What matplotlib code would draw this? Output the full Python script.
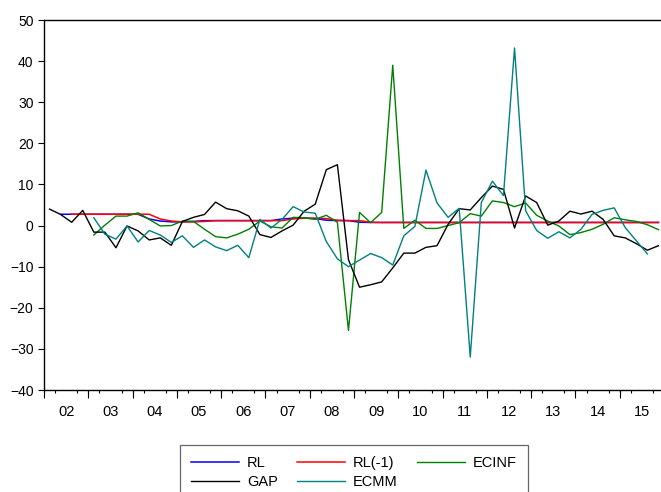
"""Quarterly series 2002-2015: RL, RL(-1), ECINF, GAP, ECMM (EViews-style line chart)."""
import numpy as np
import matplotlib
matplotlib.use("Agg")
import matplotlib.pyplot as plt

plt.rcParams["font.family"] = ["Liberation Sans", "DejaVu Sans"]

NA = np.nan

years = list(range(2002, 2016))
year_labels = [f"{y % 100:02d}" for y in years]

rl = [NA, 2.75, 2.75, 2.75, 2.75, 2.75, 2.75, 2.75, 2.75, 1.6,
      1.1, 0.9, 0.9, 1.0, 1.2, 1.2, 1.2, 1.2, 1.2, 1.2,
      1.2, 1.6, 1.8, 1.8, 1.7, 1.3, 1.2, 1.2, 0.8, 0.75,
      0.75, 0.75, 0.75, 0.75, 0.75, 0.75, 0.75, 0.75, 0.75, 0.75,
      0.75, 0.75, 0.75, 0.75, 0.75, 0.75, 0.75, 0.75, 0.75, 0.75,
      0.75, 0.75, 0.75, 0.75, 0.75, 0.75]

rl_lag = [NA, NA, 2.75, 2.75, 2.75, 2.75, 2.75, 2.75, 2.75, 2.75,
          1.6, 1.1, 0.9, 0.9, 1.0, 1.2, 1.2, 1.2, 1.2, 1.2,
          1.2, 1.2, 1.6, 1.8, 1.8, 1.7, 1.3, 1.2, 1.2, 0.8,
          0.75, 0.75, 0.75, 0.75, 0.75, 0.75, 0.75, 0.75, 0.75, 0.75,
          0.75, 0.75, 0.75, 0.75, 0.75, 0.75, 0.75, 0.75, 0.75, 0.75,
          0.75, 0.75, 0.75, 0.75, 0.75, 0.75]

ecinf = [NA, NA, NA, NA, -2.3, 0.1, 2.3, 2.3, 3.1, 1.5,
         -0.1, 0.0, 1.1, 1.0, -0.9, -2.7, -3.0, -2.1, -0.9, 1.1,
         -0.3, -0.6, 2.0, 1.9, 1.5, 2.5, 0.8, -25.5, 3.2, 0.7,
         3.2, 39.0, -0.7, 1.3, -0.7, -0.7, 0.0, 0.7, 2.9, 2.3,
         6.0, 5.6, 4.6, 5.5, 2.5, 1.1, -0.1, -2.2, -1.7, -0.9,
         0.3, 1.9, 1.4, 1.0, 0.2, -1.0]

gap = [4.0, 2.7, 0.8, 3.7, -1.6, -1.6, -5.4, -0.1, -1.3, -3.5,
       -3.0, -4.8, 1.0, 2.0, 2.7, 5.7, 4.1, 3.6, 2.3, -2.2,
       -2.9, -1.3, 0.1, 3.5, 5.2, 13.6, 14.8, -8.3, -15.0, -14.4,
       -13.7, -10.3, -6.7, -6.7, -5.3, -4.9, 0.3, 4.1, 3.8, 6.8,
       9.6, 8.8, -0.6, 7.2, 5.6, 0.1, 1.1, 3.5, 2.8, 3.5,
       1.5, -2.5, -3.0, -4.4, -6.0, -4.9]

ecmm = [NA, NA, NA, NA, 1.9, -2.1, -3.3, -0.1, -4.0, -1.2,
        -2.3, -4.1, -2.5, -5.3, -3.5, -5.2, -6.1, -4.8, -7.8, 1.5,
        -0.6, 1.5, 4.6, 3.3, 3.0, -3.9, -8.1, -10.0, -8.4, -6.8,
        -7.8, -9.6, -2.5, -0.2, 13.5, 5.5, 2.0, 4.2, -32.0, 5.6,
        10.8, 7.3, 43.2, 3.6, -1.2, -3.1, -1.5, -3.0, -0.9, 2.7,
        3.7, 4.3, -0.5, -3.7, -6.9, NA]

# quarter midpoints, in years
t = years[0] + (np.arange(len(gap)) + 0.5) / 4

fig = plt.figure(figsize=(6.61, 4.92), dpi=100)
ax = fig.add_axes([44 / 661, 1 - 390 / 492, 620 / 661, 370 / 492])

ax.plot(t, rl, color="#0000ff", lw=1.1, label="RL")
ax.plot(t, rl_lag, color="#ff0000", lw=1.1, label="RL(-1)")
ax.plot(t, ecinf, color="#008000", lw=1.0, label="ECINF")
ax.plot(t, gap, color="black", lw=1.0, label="GAP")
ax.plot(t, ecmm, color="#008080", lw=1.0, label="ECMM")

ax.set_xlim(years[0], years[-1] + 1)
ax.set_ylim(-40, 50)
ax.set_yticks(np.arange(-40, 51, 10))
ax.tick_params(axis="y", direction="out", length=4.5, width=0.8,
               labelsize=10, pad=3)

# year labels centred in each year, quarter ticks, longer year-boundary ticks
ax.set_xticks(np.array(years) + 0.5)
ax.set_xticklabels(year_labels)
ax.set_xticks(np.arange(years[0], years[-1] + 1.01, 0.25), minor=True)
ax.tick_params(axis="x", which="major", length=0, labelsize=10.5, pad=11)
ax.tick_params(axis="x", which="minor", direction="out", length=2.5, width=0.8)
sec = ax.secondary_xaxis("bottom")
sec.set_xticks(list(years) + [years[-1] + 1])
sec.set_xticklabels([])
sec.tick_params(direction="out", length=5.5, width=0.8)
sec.spines["bottom"].set_visible(False)

for s in ax.spines.values():
    s.set_linewidth(1.0)

h, l = ax.get_legend_handles_labels()
order = [0, 3, 1, 4, 2]  # fill rows: RL RL(-1) ECINF / GAP ECMM
leg = fig.legend([h[i] for i in order], [l[i] for i in order],
                 ncol=3, loc="upper left", bbox_to_anchor=(180 / 661, 1 - 445 / 492),
                 frameon=True, fancybox=False, fontsize=10.5, handlelength=3.3,
                 handletextpad=0.55, columnspacing=1.3, borderpad=0.75,
                 labelspacing=0.35, borderaxespad=0)
leg.get_frame().set_edgecolor("#404040")
leg.get_frame().set_linewidth(0.9)

fig.savefig("out.png", dpi=100)
